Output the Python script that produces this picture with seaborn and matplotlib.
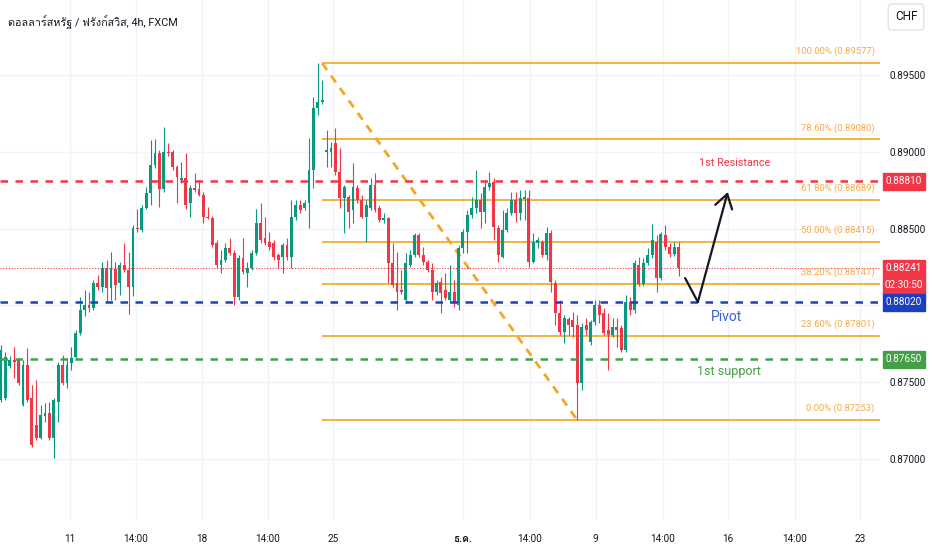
import numpy as np
import pandas as pd
import seaborn as sns
import matplotlib.pyplot as plt
from matplotlib import font_manager, ft2font
from matplotlib.patches import Rectangle
from matplotlib.transforms import blended_transform_factory

# USD/CHF 4h candles
opens = [0.87384, 0.87397, 0.87605, 0.87644, 0.87644, 0.87351, 0.87612, 0.87397, 0.87221, 0.87137,
         0.87280, 0.87299, 0.87137, 0.87371, 0.87612, 0.87495, 0.87625, 0.87664, 0.87820, 0.87970,
         0.88002, 0.87983, 0.88146, 0.88120, 0.88243, 0.88113, 0.88237, 0.88146, 0.88263, 0.88230,
         0.88120, 0.88504, 0.88491, 0.88634, 0.88732, 0.88914, 0.88992, 0.88758, 0.88999, 0.88999,
         0.88901, 0.88816, 0.88829, 0.88667, 0.88764, 0.88758, 0.88719, 0.88575, 0.88569, 0.88406,
         0.88263, 0.88295, 0.88374, 0.88341, 0.88055, 0.88308, 0.88211, 0.88243, 0.88341, 0.88536,
         0.88439, 0.88413, 0.88406, 0.88328, 0.88315, 0.88393, 0.88315, 0.88575, 0.88653, 0.88634,
         0.88667, 0.88881, 0.89285, 0.89324, 0.88999, 0.88999, 0.89057, 0.88868, 0.88699, 0.88706,
         0.88621, 0.88764, 0.88686, 0.88575, 0.88634, 0.88784, 0.88634, 0.88556, 0.88569, 0.88276,
         0.88146, 0.88100, 0.88035, 0.88263, 0.88328, 0.88458, 0.88328, 0.88282, 0.88230, 0.88087,
         0.88152, 0.88100, 0.88035, 0.88087, 0.88002, 0.88374, 0.88478, 0.88588, 0.88634, 0.88686,
         0.88608, 0.88771, 0.88803, 0.88504, 0.88315, 0.88491, 0.88601, 0.88686, 0.88601, 0.88693,
         0.88699, 0.88282, 0.88406, 0.88413, 0.88328, 0.88471, 0.88146, 0.87950, 0.87827, 0.87911,
         0.87905, 0.87872, 0.87495, 0.87872, 0.87762, 0.87892, 0.88002, 0.87950, 0.87840, 0.87807,
         0.87859, 0.87853, 0.87709, 0.88022, 0.87970, 0.88263, 0.88139, 0.88276, 0.88328, 0.88413,
         0.88178, 0.88458, 0.88380, 0.88335, 0.88380]
closes = [0.87709, 0.87664, 0.87644, 0.87631, 0.87495, 0.87612, 0.87384, 0.87091, 0.87137, 0.87286,
          0.87299, 0.87137, 0.87384, 0.87612, 0.87495, 0.87612, 0.87657, 0.87820, 0.87970, 0.88002,
          0.87983, 0.88146, 0.88120, 0.88243, 0.88113, 0.88243, 0.88133, 0.88263, 0.88230, 0.88120,
          0.88504, 0.88497, 0.88634, 0.88732, 0.88914, 0.88992, 0.88758, 0.88999, 0.88992, 0.88901,
          0.88836, 0.88829, 0.88653, 0.88764, 0.88751, 0.88719, 0.88575, 0.88569, 0.88393, 0.88263,
          0.88295, 0.88374, 0.88341, 0.88055, 0.88308, 0.88217, 0.88243, 0.88341, 0.88536, 0.88426,
          0.88406, 0.88380, 0.88315, 0.88295, 0.88393, 0.88315, 0.88575, 0.88653, 0.88621, 0.88667,
          0.88881, 0.89285, 0.89324, 0.89337, 0.89012, 0.89025, 0.88868, 0.88699, 0.88771, 0.88608,
          0.88771, 0.88686, 0.88575, 0.88653, 0.88784, 0.88621, 0.88556, 0.88569, 0.88276, 0.88133,
          0.88087, 0.88087, 0.88276, 0.88328, 0.88458, 0.88328, 0.88282, 0.88230, 0.88087, 0.88146,
          0.88081, 0.88048, 0.88087, 0.88022, 0.88374, 0.88478, 0.88588, 0.88634, 0.88686, 0.88608,
          0.88771, 0.88797, 0.88510, 0.88328, 0.88491, 0.88601, 0.88686, 0.88601, 0.88699, 0.88706,
          0.88282, 0.88413, 0.88426, 0.88328, 0.88471, 0.88152, 0.87950, 0.87827, 0.87918, 0.87872,
          0.87859, 0.87495, 0.87859, 0.87840, 0.87892, 0.88002, 0.87937, 0.87820, 0.87807, 0.87859,
          0.87840, 0.87709, 0.88022, 0.87970, 0.88276, 0.88139, 0.88276, 0.88328, 0.88426, 0.88178,
          0.88465, 0.88380, 0.88335, 0.88380, 0.88241]
highs = [0.87742, 0.87696, 0.87670, 0.87729, 0.87657, 0.87644, 0.87722, 0.87482, 0.87514, 0.87351,
         0.87365, 0.87371, 0.87397, 0.87631, 0.87677, 0.87657, 0.87729, 0.87840, 0.88055, 0.88100,
         0.88087, 0.88165, 0.88198, 0.88282, 0.88295, 0.88348, 0.88282, 0.88282, 0.88406, 0.88348,
         0.88523, 0.88627, 0.88653, 0.88771, 0.89077, 0.89083, 0.89012, 0.89161, 0.89057, 0.89012,
         0.88914, 0.88933, 0.88992, 0.88784, 0.88862, 0.88816, 0.88738, 0.88640, 0.88582, 0.88426,
         0.88361, 0.88406, 0.88439, 0.88361, 0.88328, 0.88439, 0.88282, 0.88361, 0.88627, 0.88667,
         0.88575, 0.88478, 0.88426, 0.88341, 0.88406, 0.88439, 0.88686, 0.88686, 0.88686, 0.88686,
         0.89090, 0.89357, 0.89577, 0.89467, 0.89142, 0.89064, 0.89155, 0.89025, 0.88784, 0.88719,
         0.88927, 0.88784, 0.88719, 0.88686, 0.88829, 0.88862, 0.88653, 0.88601, 0.88575, 0.88406,
         0.88348, 0.88230, 0.88341, 0.88361, 0.88471, 0.88471, 0.88380, 0.88295, 0.88276, 0.88165,
         0.88185, 0.88211, 0.88263, 0.88165, 0.88393, 0.88497, 0.88621, 0.88706, 0.88881, 0.88732,
         0.88816, 0.88868, 0.88829, 0.88523, 0.88621, 0.88634, 0.88738, 0.88738, 0.88751, 0.88751,
         0.88751, 0.88471, 0.88445, 0.88426, 0.88510, 0.88491, 0.88165, 0.88035, 0.87937, 0.87924,
         0.87957, 0.87937, 0.87885, 0.87918, 0.87905, 0.88035, 0.88035, 0.87983, 0.87950, 0.87918,
         0.87918, 0.87872, 0.88068, 0.88055, 0.88295, 0.88315, 0.88308, 0.88374, 0.88530, 0.88458,
         0.88478, 0.88523, 0.88406, 0.88413, 0.88413]
lows = [0.87371, 0.87384, 0.87592, 0.87527, 0.87482, 0.87345, 0.87371, 0.87078, 0.87124, 0.87130,
        0.87241, 0.87124, 0.87006, 0.87241, 0.87482, 0.87462, 0.87579, 0.87644, 0.87807, 0.87931,
        0.87957, 0.87970, 0.88100, 0.88087, 0.88022, 0.88035, 0.88035, 0.88068, 0.88217, 0.87944,
        0.88061, 0.88478, 0.88478, 0.88630, 0.88653, 0.88894, 0.88640, 0.88738, 0.88972, 0.88881,
        0.88667, 0.88797, 0.88627, 0.88575, 0.88738, 0.88712, 0.88536, 0.88562, 0.88380, 0.88243,
        0.88211, 0.88282, 0.88328, 0.88002, 0.88035, 0.88204, 0.88120, 0.88230, 0.88328, 0.88406,
        0.88393, 0.88361, 0.88295, 0.88243, 0.88211, 0.88295, 0.88243, 0.88556, 0.88601, 0.88621,
        0.88504, 0.88764, 0.89239, 0.89310, 0.88901, 0.88901, 0.88849, 0.88634, 0.88471, 0.88504,
        0.88536, 0.88667, 0.88569, 0.88413, 0.88621, 0.88608, 0.88543, 0.88536, 0.88146, 0.88120,
        0.87970, 0.88074, 0.88016, 0.88250, 0.88315, 0.88315, 0.88263, 0.88217, 0.88035, 0.88068,
        0.87950, 0.88035, 0.88016, 0.87989, 0.87970, 0.88341, 0.88341, 0.88569, 0.88601, 0.88504,
        0.88536, 0.88751, 0.88426, 0.88282, 0.88308, 0.88478, 0.88588, 0.88543, 0.88556, 0.88556,
        0.88250, 0.88276, 0.88374, 0.88315, 0.88295, 0.88087, 0.87872, 0.87807, 0.87755, 0.87807,
        0.87794, 0.87253, 0.87449, 0.87807, 0.87742, 0.87872, 0.87885, 0.87807, 0.87579, 0.87794,
        0.87729, 0.87696, 0.87696, 0.87937, 0.87950, 0.88126, 0.88126, 0.88263, 0.88308, 0.88087,
        0.88165, 0.88361, 0.88315, 0.88321, 0.88191]

# Fibonacci retracement drawn from the swing high to the swing low
fib_start_bar = 73
fib_end_bar = 131
fib_pcts = ['100.00%', '78.60%', '61.80%', '50.00%', '38.20%', '23.60%', '0.00%']
fib_levels = [0.89577, 0.89080, 0.88689, 0.88415, 0.88141, 0.87801, 0.87253]

# hand drawn levels
resistance = 0.88810
pivot = 0.88020
support = 0.87650
last_price = 0.88241
countdown = '02:30:50'

# sketched arrow (bar, price)
arrow_bars = [155.5, 158.4, 165.2]
arrow_prices = [0.88178, 0.88022, 0.88738]

# time axis
tick_pos = [15.7, 30.7, 45.7, 60.7, 75.5, 105.0, 120.2, 135.2, 150.5, 165.2, 180.5, 195.2]
tick_labels = ['11', '14:00', '18', '14:00', '25', 'ธ.ค.', '14:00', '9', '14:00', '16', '14:00', '23']
price_ticks = [0.870, 0.875, 0.880, 0.885, 0.890, 0.895]

title = 'ดอลลาร์สหรัฐ / ฟรังก์สวิส, 4h, FXCM'

UP = '#089981'
DOWN = '#f23645'
FIB = '#f5a623'
FIB_TEXT = '#f7ab45'
BLUE = '#1c3fc1'
GREEN = '#43a047'
INK = '#131722'

sns.set_style('white')


def thai_family():
    for f in font_manager.fontManager.ttflist:
        try:
            cmap = ft2font.FT2Font(f.fname).get_charmap()
        except Exception:
            continue
        if 0x0E14 in cmap and 0x0E23 in cmap:
            return f.name
    return None


names = {f.name for f in font_manager.fontManager.ttflist}
base = 'Liberation Sans Narrow' if 'Liberation Sans Narrow' in names else 'Roboto'
thai = thai_family()
families = [base] + ([thai] if thai else []) + ['DejaVu Sans']
plt.rcParams['font.family'] = families

df = pd.DataFrame({'open': opens, 'high': highs, 'low': lows, 'close': closes})
df['bar'] = np.arange(len(df))
df['up'] = df['close'] >= df['open']
df['color'] = np.where(df['up'], UP, DOWN)
df['bottom'] = df[['open', 'close']].min(axis=1)
df['height'] = (df['close'] - df['open']).abs().clip(lower=0.00003)

fig = plt.figure(figsize=(9.32, 5.5), dpi=100)
ax = fig.add_axes([0, 30 / 550, 880 / 932, 520 / 550])
ax.set_xlim(-0.23, 199.8)
ax.set_ylim(0.86603, 0.89988)

# grid
for t in tick_pos:
    ax.axvline(t, color='#f0f3fa', lw=1, zorder=0)
for p in price_ticks:
    ax.axhline(p, color='#f0f3fa', lw=1, zorder=0)

# candles
ax.vlines(df['bar'], df['low'], df['high'], colors=df['color'], lw=0.8, zorder=3)
ax.bar(df['bar'], df['height'], bottom=df['bottom'], width=0.66, color=df['color'],
       edgecolor='none', zorder=4)

# fibonacci
ax.hlines(fib_levels, fib_start_bar, 199.8, colors=FIB, lw=1.2, zorder=2)
for pct, lvl in zip(fib_pcts, fib_levels):
    ax.annotate(f'{pct} ({lvl:.5f})', (198.6, lvl), xytext=(0, 5), textcoords='offset points',
                ha='right', va='bottom', color=FIB_TEXT, fontsize=6.8, zorder=6)
sns.lineplot(x=[fib_start_bar, fib_end_bar], y=[fib_levels[0], fib_levels[-1]], ax=ax,
             color=FIB, lw=2, ls=(0, (3, 2.5)), zorder=2)

# levels
ax.axhline(resistance, color=DOWN, lw=1.8, ls=(0, (3, 3)), zorder=5)
ax.axhline(pivot, color=BLUE, lw=1.8, ls=(0, (3, 3)), zorder=5)
ax.axhline(support, color=GREEN, lw=1.8, ls=(0, (3, 3)), zorder=5)
ax.axhline(last_price, color=DOWN, lw=0.8, ls=(0, (1, 1.5)), zorder=5)

ax.text(166.8, 0.88927, '1st Resistance', color=DOWN, fontsize=7.8, ha='center', va='center')
ax.text(165.0, 0.87925, 'Pivot', color='#3b5fd0', fontsize=10, ha='center', va='center')
ax.text(165.5, 0.87567, '1st support', color=GREEN, fontsize=9, ha='center', va='center')

# arrow
ax.plot(arrow_bars[:2], arrow_prices[:2], color=INK, lw=1.6, solid_capstyle='round', zorder=7)
ax.annotate('', xy=(arrow_bars[2], arrow_prices[2]), xytext=(arrow_bars[1], arrow_prices[1]),
            arrowprops=dict(arrowstyle='->,head_length=0.7,head_width=0.45', color=INK, lw=1.6,
                            shrinkA=0, shrinkB=0, mutation_scale=14), zorder=7)

# axes
ax.yaxis.tick_right()
ax.set_yticks(price_ticks)
ax.set_yticklabels([f'{p:.5f}' if p != 0.880 else '' for p in price_ticks])
ax.set_xticks(tick_pos)
ax.set_xticklabels(tick_labels)
for lab in ax.get_xticklabels():
    if lab.get_text() == 'ธ.ค.':
        lab.set_fontweight('bold')
ax.tick_params(axis='y', length=0, pad=7, labelsize=7.2, labelcolor=INK)
ax.tick_params(axis='x', length=0, pad=10, labelsize=7.2, labelcolor=INK)
ax.set_xlabel('')
ax.set_ylabel('')
for s in ax.spines.values():
    s.set_visible(False)

# price tags on the scale
px = 0.0000651
trans = blended_transform_factory(ax.transAxes, ax.transData)


def tag(price, color, text, below=None):
    top = price + 8 * px
    bot = price - 9 * px - (17 * px if below else 0)
    ax.add_patch(Rectangle((1.0035, bot), 0.0477, top - bot, transform=trans, color=color,
                           clip_on=False, zorder=8))
    ax.text(1.0274, price, text, transform=trans, color='white', fontsize=7.2, ha='center',
            va='center', zorder=9)
    if below:
        ax.text(1.0274, price - 17 * px, below, transform=trans, color='white', fontsize=7.2,
                ha='center', va='center', zorder=9)


tag(resistance, DOWN, f'{resistance:.5f}')
tag(last_price, DOWN, f'{last_price:.5f}', countdown)
tag(pivot, BLUE, f'{pivot:.5f}')
tag(support, GREEN, f'{support:.5f}')

fig.text(8 / 932, 1 - 22 / 550, title, va='center', ha='left', fontsize=7.8, color=INK)
fig.text(906 / 932, 1 - 17 / 550, 'CHF', va='center', ha='center', fontsize=8.5, color=INK,
         bbox=dict(boxstyle='round,pad=0.55,rounding_size=0.3', fc='white', ec='#e0e3eb', lw=1))

fig.savefig('out.png', dpi=100)
